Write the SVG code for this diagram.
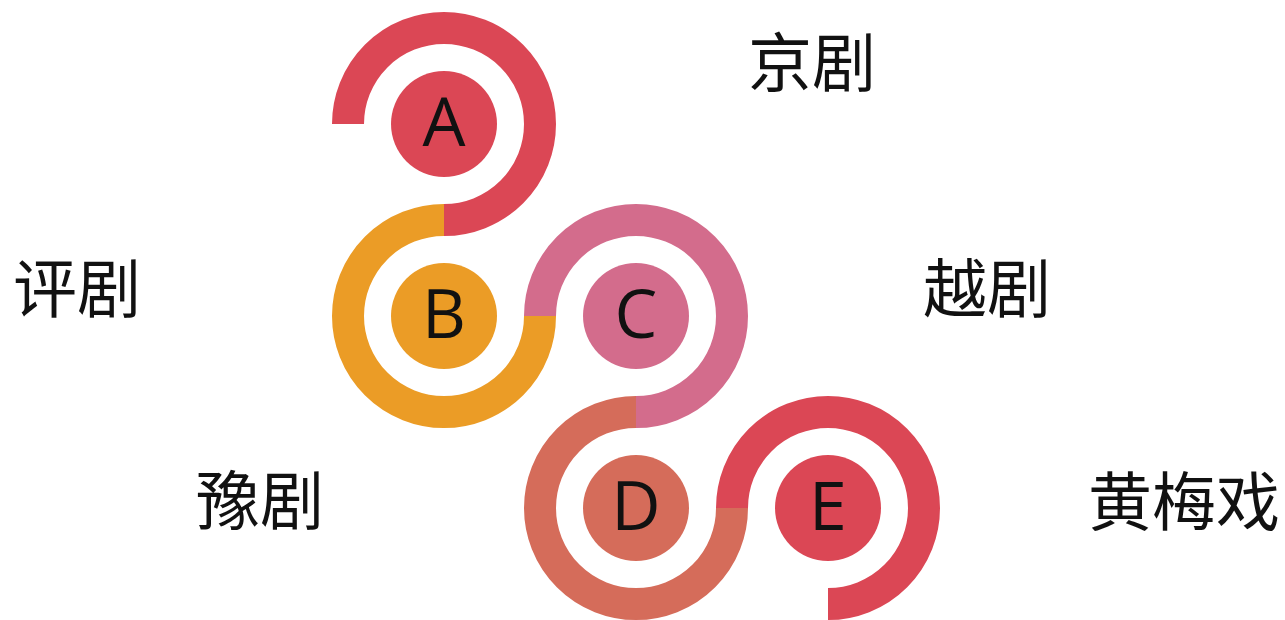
<svg xmlns="http://www.w3.org/2000/svg" width="1285" height="620" viewBox="0 0 1285 620">
<style>
.ring{fill:none;stroke-width:32;stroke-linecap:butt}
.letter{font-family:"Open Sans","Noto Sans",sans-serif;font-size:68px;fill:#111;text-anchor:middle}
.label{font-family:"Noto Sans CJK SC","Noto Sans",sans-serif;font-size:64px;fill:#111}
.red{stroke:#DB4755}.redf{fill:#DB4755}
.org{stroke:#EB9C26}.orgf{fill:#EB9C26}
.pink{stroke:#D36C8C}.pinkf{fill:#D36C8C}
.coral{stroke:#D56C5A}.coralf{fill:#D56C5A}
</style>
<rect width="1285" height="620" fill="#fff"/>
<g id="connectors">
<path class="ring red" d="M 348 124 A 96 96 0 1 1 444 220"/>
<path class="ring org" d="M 444 220 A 96 96 0 1 0 540 316"/>
<path class="ring pink" d="M 540 316 A 96 96 0 1 1 636 412"/>
<path class="ring coral" d="M 636 412 A 96 96 0 1 0 732 508"/>
<path class="ring red" d="M 732 508 A 96 96 0 1 1 828 604"/>
</g>
<g id="node-A">
<circle class="redf" cx="444" cy="124" r="53"/>
<text class="letter" x="444" y="146">A</text>
<text class="label" x="748" y="86">京剧</text>
</g>
<g id="node-B">
<circle class="orgf" cx="444" cy="316" r="53"/>
<text class="letter" x="444" y="338">B</text>
<text class="label" x="13" y="312">评剧</text>
</g>
<g id="node-C">
<circle class="pinkf" cx="636" cy="316" r="53"/>
<text class="letter" x="636" y="338">C</text>
<text class="label" x="923" y="312">越剧</text>
</g>
<g id="node-D">
<circle class="coralf" cx="636" cy="508" r="53"/>
<text class="letter" x="636" y="530">D</text>
<text class="label" x="196" y="524">豫剧</text>
</g>
<g id="node-E">
<circle class="redf" cx="828" cy="508" r="53"/>
<text class="letter" x="828" y="530">E</text>
<text class="label" x="1088" y="525">黄梅戏</text>
</g>
</svg>
